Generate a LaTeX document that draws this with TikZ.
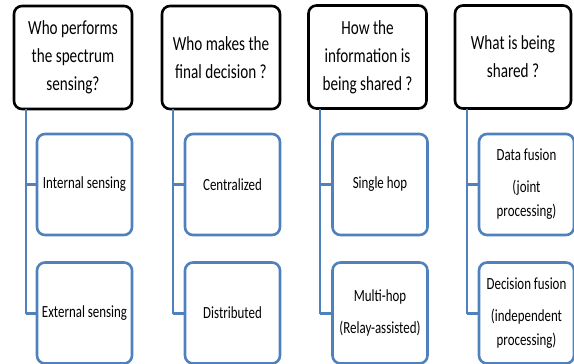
\documentclass[tikz,border=0pt]{standalone}
\usepackage{fontspec}
\setmainfont{Carlito}[FakeStretch=0.76]
\definecolor{boxblue}{RGB}{79,129,189}
\tikzset{
  question/.style={shape=rectangle, rounded corners=8pt, draw=black, line width=2.6pt, minimum width=118pt, minimum height=103pt, inner sep=0pt, align=center, font=\fontsize{20}{28}\selectfont},
  answer/.style={shape=rectangle, rounded corners=8pt, draw=boxblue, line width=2.6pt, minimum width=95pt, minimum height=101pt, inner sep=0pt, align=center, font=\fontsize{17}{24}\selectfont},
  link/.style={draw=boxblue, line width=1.4pt},
  stub/.style={draw=boxblue, line width=3pt},
}
\begin{document}
\begin{tikzpicture}[x=1pt, y=-1pt]
\useasboundingbox (0,0) rectangle (574,364);
\node[question] (q1) at (73,57.5) {Who performs\\the spectrum\\sensing?};
\node[question] (q2) at (221,57.5) {Who makes the\\final decision ?};
\node[question] (q3) at (367.5,57) {How the\\information is\\being shared ?};
\node[question, minimum width=116pt] (q4) at (513,57) {What is being\\shared ?};
\coordinate (t1) at (26,109);
\coordinate (t2) at (173,109);
\coordinate (t3) at (320,108.5);
\coordinate (t4) at (467,108.5);
\node[answer] (a1) at (84.5,184.5) {Internal sensing};
\node[answer] (b1) at (84.5,313) {External sensing};
\node[answer] (a2) at (232.5,184.5) {Centralized};
\node[answer] (b2) at (232.5,313) {Distributed};
\node[answer] (a3) at (380,184.5) {Single hop};
\node[answer] (b3) at (380,313) {Multi-hop\\[8pt](Relay-assisted)};
\node[answer] (a4) at (526.5,184.5) {Data fusion\\[8pt](joint\\processing)};
\node[answer] (b4) at (526.5,313) {Decision fusion\\[8pt](independent\\processing)};
\foreach \i in {1,2,3,4} {
  \draw[link] (t\i) |- (b\i.west);
  \draw[stub] (a\i.west -| t\i) -- (a\i.west);
  \draw[stub] (b\i.west -| t\i) -- (b\i.west);
}
\end{tikzpicture}
\end{document}
